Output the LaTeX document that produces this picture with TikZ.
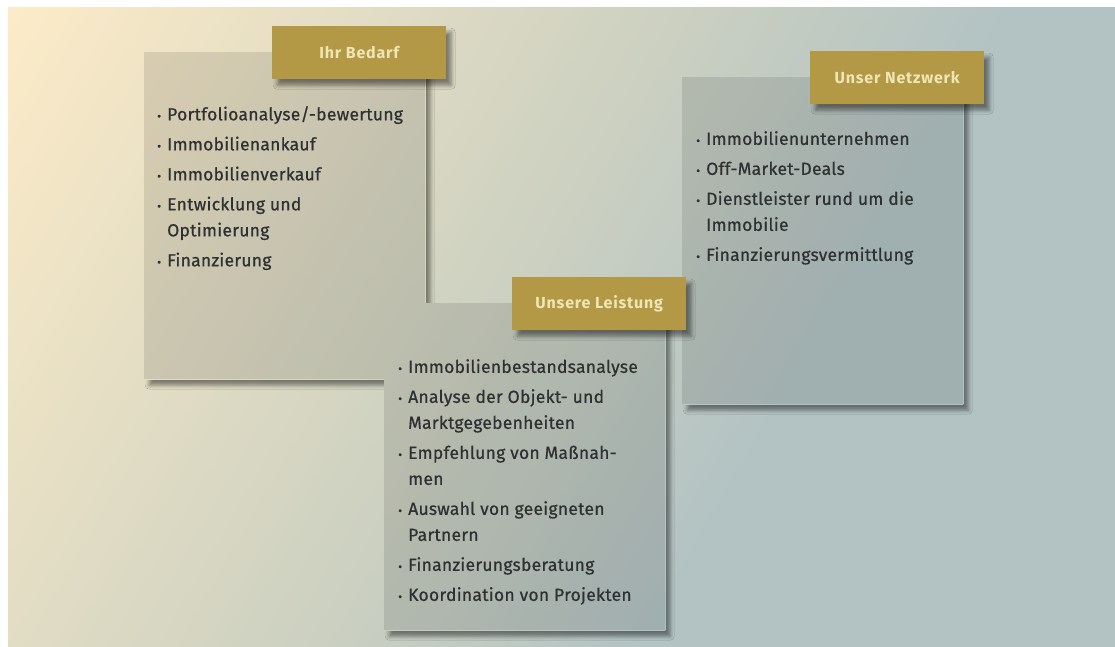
\documentclass[tikz,border=0pt]{standalone}
\usepackage{fontspec}
\setmainfont{Fira Sans}
\newfontfamily\bodyfont{Fira Sans}[FakeBold=0.6, LetterSpace=1.5]
\newfontfamily\headfont{Fira Sans}[LetterSpace=5]
\usetikzlibrary{positioning,shadows.blur}

\definecolor{bgwarm}{HTML}{FCEBC8}
\definecolor{bgmid}{HTML}{CDD1C1}
\definecolor{bgcool}{HTML}{B3C3C3}
\definecolor{gold}{HTML}{B39945}
\definecolor{goldtext}{HTML}{F0E5B6}
\definecolor{ink}{HTML}{2E3131}

\pgfdeclarehorizontalshading{bgshade}{100bp}{color(0bp)=(bgwarm); color(23.4bp)=(bgwarm); color(47bp)=(bgmid); color(59.6bp)=(bgcool); color(100bp)=(bgcool)}

\newcommand{\itm}{\makebox[10pt][l]{\fontsize{12}{12}\selectfont\textbullet}}
\newcommand{\cnt}{\hspace*{10pt}}
\newcommand{\cardfill}[1]{%
  \begin{scope}
    \clip (#1.north west) rectangle (#1.south east);
    \shade[shading=bgshade, shading angle=-30] (-39,-274) rectangle (1161,926);
    \fill[black, opacity=.10] (#1.north west) rectangle (#1.south east);
  \end{scope}}

\tikzset{
  card/.style={anchor=north west, fill=bgcool, minimum width=281pt, minimum height=327pt, inner sep=0pt,
    blur shadow={shadow xshift=5pt, shadow yshift=-6pt, shadow blur radius=4pt, shadow opacity=45}},
  head/.style={anchor=north west, fill=gold, text=goldtext, minimum width=174pt, minimum height=53pt, inner sep=0pt,
    font=\headfont\fontsize{16}{18}\selectfont\bfseries,
    blur shadow={shadow xshift=5pt, shadow yshift=-6pt, shadow blur radius=4pt, shadow opacity=45}},
  list/.style={anchor=north west, align=left, text=ink, inner sep=0pt, font=\bodyfont\fontsize{17.5}{26}\selectfont},
}

\begin{document}
\begin{tikzpicture}[x=1pt, y=-1pt]
  \useasboundingbox (0,0) rectangle (1115,646);
  \fill[white] (0,0) rectangle (1115,646);

  % background
  \begin{scope}
    \clip (8,7) rectangle (1115,646);
    \shade[shading=bgshade, shading angle=-30] (-39,-274) rectangle (1161,926);
  \end{scope}

  % Ihr Bedarf
  \node[card] (bedarf) at (144,52) {};
  \cardfill{bedarf}
  \node[head] (bedarfhead) at ([xshift=128pt, yshift=26pt]bedarf.north west) {Ihr Bedarf};
  \node[list] (bedarflist) at ([xshift=13pt, yshift=-54pt]bedarf.north west) {%
    \itm Portfolioanalyse/-bewertung\\[4pt]
    \itm Immobilienankauf\\[4pt]
    \itm Immobilienverkauf\\[4pt]
    \itm Entwicklung und\\
    \cnt Optimierung\\[4pt]
    \itm Finanzierung};

  % Unser Netzwerk
  \node[card] (netz) at (682,77) {};
  \cardfill{netz}
  \node[head] (netzhead) at ([xshift=128pt, yshift=26pt]netz.north west) {Unser Netzwerk};
  \node[list] (netzlist) at ([xshift=14pt, yshift=-54pt]netz.north west) {%
    \itm Immobilienunternehmen\\[4pt]
    \itm Off-Market-Deals\\[4pt]
    \itm Dienstleister rund um die\\
    \cnt Immobilie\\[4pt]
    \itm Finanzierungsvermittlung};

  % Unsere Leistung
  \node[card] (leist) at (384,303) {};
  \cardfill{leist}
  \node[head] (leisthead) at ([xshift=128pt, yshift=26pt]leist.north west) {Unsere Leistung};
  \node[list] (leistlist) at ([xshift=14pt, yshift=-56pt]leist.north west) {%
    \itm Immobilienbestandsanalyse\\[4pt]
    \itm Analyse der Objekt- und\\
    \cnt Marktgegebenheiten\\[4pt]
    \itm Empfehlung von Maßnah-\\
    \cnt men\\[4pt]
    \itm Auswahl von geeigneten\\
    \cnt Partnern\\[4pt]
    \itm Finanzierungsberatung\\[4pt]
    \itm Koordination von Projekten};
\end{tikzpicture}
\end{document}
